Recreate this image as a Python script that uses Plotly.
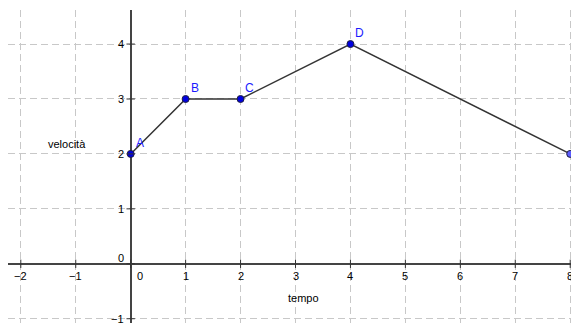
import plotly.graph_objects as go

# punti del grafico velocità-tempo
punti = ["A", "B", "C", "D", "E"]
tempo = [0, 1, 2, 4, 8]
velocita = [2, 3, 3, 4, 2]

x_ticks = [-2, -1, 0, 1, 2, 3, 4, 5, 6, 7, 8]
y_ticks = [-1, 0, 1, 2, 3, 4]

fig = go.Figure()

# segmenti
fig.add_trace(go.Scatter(x=tempo, y=velocita, mode="lines",
                         line=dict(color="#333333", width=1.5),
                         hoverinfo="skip", showlegend=False))
# punti
fig.add_trace(go.Scatter(x=tempo, y=velocita, mode="markers",
                         marker=dict(size=7, color=["#0000e0"] * 4 + ["#5c5cff"],
                                     line=dict(color="#202040", width=1)),
                         showlegend=False))

# tacche sugli assi
fig.add_trace(go.Scatter(x=x_ticks, y=[0] * len(x_ticks), mode="markers",
                         marker=dict(symbol="line-ns-open", size=6, color="#333333",
                                     line=dict(color="#333333", width=1)),
                         hoverinfo="skip", showlegend=False))
fig.add_trace(go.Scatter(x=[0] * len(y_ticks), y=y_ticks, mode="markers",
                         marker=dict(symbol="line-ew-open", size=6, color="#333333",
                                     line=dict(color="#333333", width=1)),
                         hoverinfo="skip", showlegend=False))

font = dict(family="Arial, Liberation Sans, sans-serif", size=11, color="black")

# etichette dei punti
for i, p in enumerate(punti):
    fig.add_annotation(x=tempo[i], y=velocita[i], text=p, showarrow=False,
                       xshift=9, yshift=11,
                       font=dict(family=font["family"], size=12,
                                 color="#5c5cff" if p == "E" else "#1a1aff"))

# etichette delle tacche
for v in x_ticks:
    fig.add_annotation(x=v, y=0, text=("\u2212" + str(-v)) if v < 0 else str(v),
                       showarrow=False, xshift=9 if v == 0 else 0, yshift=-12,
                       font=font)
for v in y_ticks:
    fig.add_annotation(x=0, y=v, text=("\u2212" + str(-v)) if v < 0 else str(v),
                       showarrow=False, xanchor="right",
                       xshift=-5, yshift=6 if v == 0 else 0, font=font)

fig.add_annotation(x=-1.16, y=2.18, text="velocità", showarrow=False, font=font)
fig.add_annotation(x=3.15, y=-0.62, text="tempo", showarrow=False, font=font)

fig.update_xaxes(range=[-2.233, 8.16], showticklabels=False, ticks="",
                 dtick=1, tick0=0, showgrid=True, gridcolor="#c8c8c8",
                 griddash="7px,4px", gridwidth=1,
                 zeroline=True, zerolinecolor="#444444", zerolinewidth=1.5,
                 showline=False)
fig.update_yaxes(range=[-1.078, 4.62], showticklabels=False, ticks="",
                 dtick=1, tick0=0, showgrid=True, gridcolor="#c8c8c8",
                 griddash="7px,4px", gridwidth=1,
                 zeroline=True, zerolinecolor="#444444", zerolinewidth=1.5,
                 showline=False)

# la pagina ha già 8px di margine del body
fig.update_layout(width=571, height=315,
                  margin=dict(l=0, r=0, t=2, b=0),
                  plot_bgcolor="white", paper_bgcolor="white",
                  showlegend=False)

fig.write_html("out.html")
